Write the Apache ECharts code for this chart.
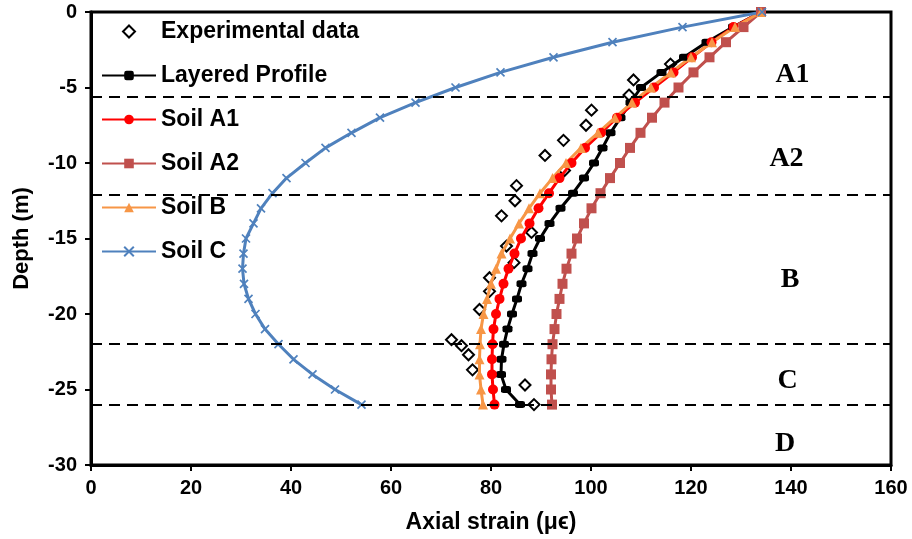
<!DOCTYPE html>
<html><head><meta charset="utf-8">
<script src="https://cdn.jsdelivr.net/npm/echarts@6/dist/echarts.min.js"></script>
<style>html,body{margin:0;padding:0;background:#fff}#c{width:912px;height:539px}</style>
</head><body><div id="c"></div>
<script>
// Depth (m) of the model profiles
const depths = [0,-1,-2,-3,-4,-5,-6,-7,-8,-9,-10,-11,-12,-13,-14,-15,-16,-17,-18,-19,-20,-21,-22,-23,-24,-25,-26];
// Axial strain (micro-strain) per model
const layered = [134.0,128.4,123.1,118.6,114.1,110.0,107.9,105.9,103.9,102.3,100.6,98.6,96.4,93.9,91.7,89.8,88.3,87.3,86.1,85.2,84.2,83.3,82.6,82.1,82.0,83.0,85.8];
const soilA1 = [134.0,128.5,124.1,120.2,116.5,112.6,108.8,105.2,102.0,98.8,96.1,93.7,91.6,89.5,87.7,86.0,84.7,83.5,82.5,81.7,81.0,80.5,80.3,80.2,80.2,80.4,80.7];
const soilA2 = [134.0,130.5,127.0,123.7,120.5,117.5,114.7,112.2,109.9,107.8,105.8,103.8,101.9,100.1,98.6,97.2,96.1,95.1,94.3,93.7,93.1,92.7,92.3,92.1,92.0,92.0,92.2];
const soilB = [134.0,128.8,124.2,120.0,116.0,112.0,108.2,104.8,101.4,98.0,95.0,92.3,89.8,87.6,85.6,83.8,82.1,81.0,80.0,79.2,78.5,78.0,77.8,77.7,77.7,78.0,78.4];
const soilC = [134.2,118.3,104.3,92.5,81.9,72.9,64.9,57.8,52.1,46.9,42.9,39.1,36.3,34.0,32.5,31.0,30.5,30.3,30.6,31.5,32.9,34.8,37.5,40.5,44.3,48.8,54.1];
// Experimental data
const expStrain = [115.9,108.5,107.6,100.1,99.0,94.5,90.8,94.7,85.1,84.8,82.1,88.1,83.1,84.6,79.7,79.7,77.7,72.1,74.1,75.5,76.3,86.8,88.6];
const expDepth = [-3.45,-4.5,-5.5,-6.5,-7.5,-8.5,-9.5,-10.5,-11.5,-12.5,-13.5,-14.6,-15.5,-16.6,-17.6,-18.5,-19.7,-21.7,-22.1,-22.7,-23.7,-24.7,-26.0];
// Layer boundaries (m)
const boundaries = [-5.6,-12.1,-22.0,-26.0];
// Layer labels
const layerNames = ['A1','A2','B','C','D'];
const layerLabelX = [140.3,139.1,139.8,139.3,138.8];
const layerLabelY = [-4.15,-9.7,-17.75,-24.4,-28.6];
// Axis ticks
const xTicks = {min:0,max:160,interval:20};
const yTicks = {min:-30,max:0,interval:5};

const FONT = "'Liberation Sans', Arial, sans-serif";
const pair = (xs, ys) => xs.map((v,i)=>[v, ys[i]]);

const chart = echarts.init(document.getElementById('c'), null, {renderer:'canvas'});
const xMark = 'path://M0,0L10,10M10,0L0,10';
const diamond = 'path://M5,0L10,5L5,10L0,5Z';

function lineSeries(name, vals, color, symbol, size){
  return {
    name, type:'line', data: pair(vals, depths),
    symbol, symbolSize:size, showSymbol:true,
    lineStyle:{color, width:3},
    itemStyle:{color, borderColor:color, borderWidth: symbol===xMark?1.7:0},
    emphasis:{disabled:true}, silent:true
  };
}

const option = {
  animation:false,
  backgroundColor:'#fff',
  grid:{left:91,right:21,top:12,bottom:74,show:true,borderColor:'#000',borderWidth:3,outerBoundsMode:'none'},
  xAxis:{
    type:'value', min:xTicks.min, max:xTicks.max, interval:xTicks.interval,
    name:'Axial strain (μϵ)', nameLocation:'middle', nameGap:46,
    nameTextStyle:{fontFamily:FONT,fontWeight:'bold',fontSize:23,color:'#000'},
    axisLine:{onZero:false,lineStyle:{color:'#000',width:3}},
    axisTick:{show:true,length:6,lineStyle:{color:'#000',width:2}},
    axisLabel:{fontFamily:FONT,fontWeight:'bold',fontSize:20,color:'#000',margin:13},
    splitLine:{show:false}
  },
  yAxis:{
    type:'value', min:yTicks.min, max:yTicks.max, interval:yTicks.interval,
    name:'Depth (m)', nameLocation:'middle', nameGap:58, nameRotate:90,
    nameTextStyle:{fontFamily:FONT,fontWeight:'bold',fontSize:22,color:'#000'},
    axisLine:{onZero:false,lineStyle:{color:'#000',width:3}},
    axisTick:{show:true,length:6,lineStyle:{color:'#000',width:2}},
    axisLabel:{fontFamily:FONT,fontWeight:'bold',fontSize:20,color:'#000',margin:14},
    splitLine:{show:false}
  },
  legend:{
    orient:'vertical', left:101, top:20, padding:0,
    itemWidth:54, itemHeight:12, itemGap:21,
    textStyle:{fontFamily:FONT,fontWeight:'bold',fontSize:23,color:'#000'},
    data:[{name:'Experimental data',icon:diamond},'Layered Profile','Soil A1','Soil A2','Soil B','Soil C']
  },
  series:[
    {
      name:'Experimental data', type:'scatter', data: pair(expStrain, expDepth),
      symbol:diamond, symbolSize:11,
      itemStyle:{color:'#fff',borderColor:'#000',borderWidth:2,opacity:1},
      emphasis:{disabled:true}, silent:true
    },
    lineSeries('Layered Profile', layered, '#000000', 'roundRect', [10,7]),
    lineSeries('Soil A1', soilA1, '#FF0000', 'circle', 10),
    lineSeries('Soil A2', soilA2, '#C0504D', 'rect', 10),
    lineSeries('Soil B', soilB, '#F79646', 'triangle', 10),
    lineSeries('Soil C', soilC, '#4F81BD', xMark, 8),
    {
      name:'layers', type:'scatter', data: layerNames.map((n,i)=>({name:n, value:[layerLabelX[i], layerLabelY[i]]})),
      symbolSize:0, silent:true, emphasis:{disabled:true},
      itemStyle:{opacity:1},
      label:{show:true, position:'inside', formatter:'{b}', fontFamily:"'Liberation Serif','Times New Roman',serif", fontWeight:'bold', fontSize:28, color:'#000', textBorderWidth:0},
      markLine:{
        silent:true, symbol:'none', label:{show:false},
        lineStyle:{color:'#000', width:2, type:[11,7], opacity:1},
        data: boundaries.map(b=>({yAxis:b}))
      }
    }
  ]
};
chart.setOption(option);
</script>
</body></html>
